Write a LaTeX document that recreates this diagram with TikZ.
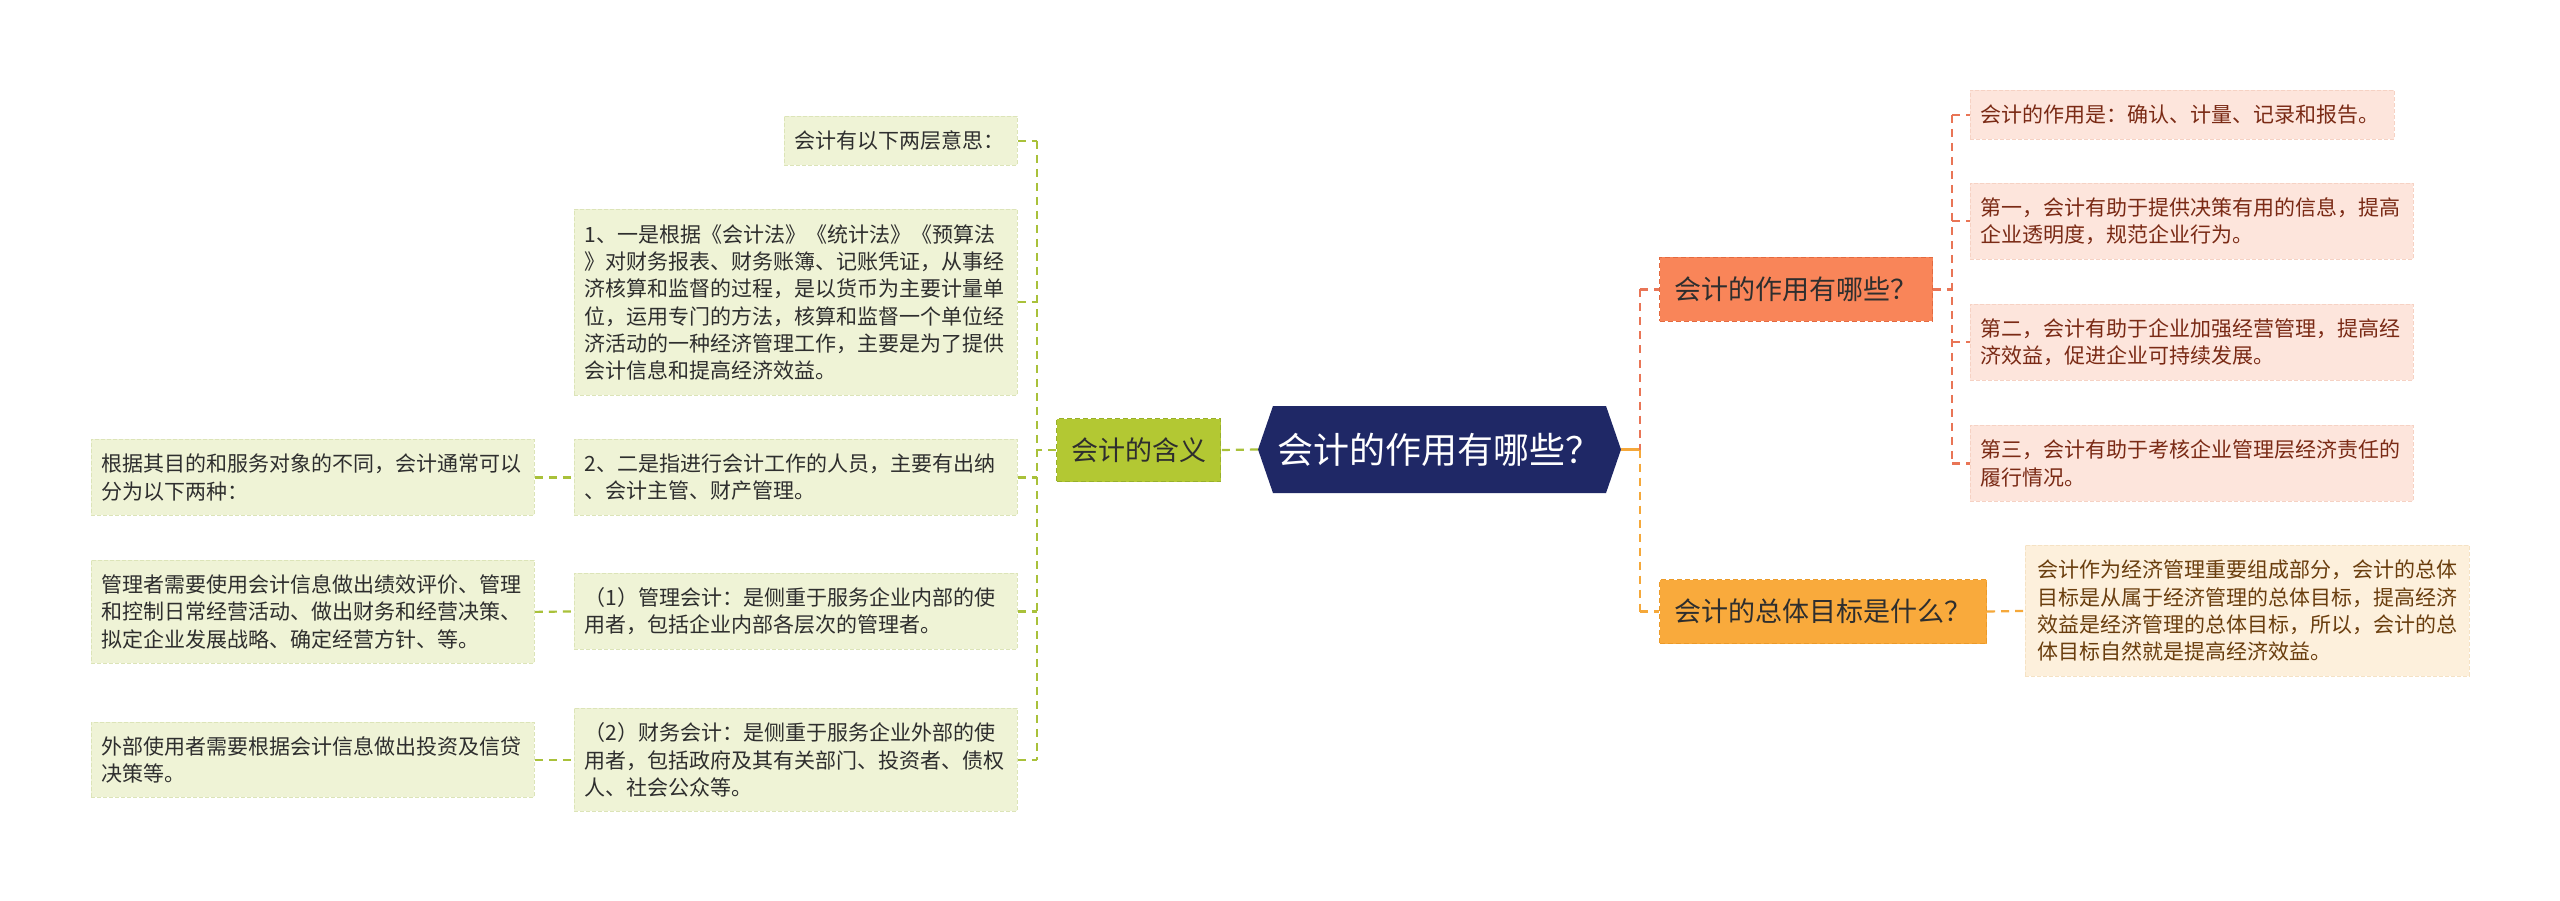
\documentclass[tikz,border=0pt]{standalone}
\usepackage{fontspec}
\setmainfont{Noto Sans CJK SC}
\usetikzlibrary{shapes.symbols}

\definecolor{leafgreen}{HTML}{EFF3D6}
\definecolor{leafgreenedge}{HTML}{DCE4B8}
\definecolor{linegreen}{HTML}{A9C13A}
\definecolor{topicgreen}{HTML}{B3C833}
\definecolor{topicgreenedge}{HTML}{98B02A}
\definecolor{rootnavy}{HTML}{1F2866}
\definecolor{topicred}{HTML}{F98559}
\definecolor{topicrededge}{HTML}{E36A40}
\definecolor{leafpink}{HTML}{FDE5DC}
\definecolor{leafpinkedge}{HTML}{F6D2C4}
\definecolor{linered}{HTML}{E97556}
\definecolor{topicorange}{HTML}{F9AA3C}
\definecolor{topicorangeedge}{HTML}{EC9A28}
\definecolor{leafcream}{HTML}{FDF0DC}
\definecolor{leafcreamedge}{HTML}{F5E2C4}
\definecolor{lineorange}{HTML}{F5A83A}
\definecolor{greentext}{HTML}{2E2E2E}
\definecolor{redtext}{HTML}{7A2A15}
\definecolor{orangetext}{HTML}{6A3E0E}

\tikzset{
  leafbox/.style={anchor=north west, inner xsep=10pt, inner ysep=0pt,
    text width=423pt, align=left, font=\fontsize{21pt}{27.3pt}\selectfont,
    line width=0.8pt, dash pattern=on 4pt off 2pt},
  greenleaf/.style={leafbox, fill=leafgreen, draw=leafgreenedge, text=greentext},
  pinkleaf/.style={leafbox, fill=leafpink, draw=leafpinkedge, text=redtext},
  creamleaf/.style={leafbox, fill=leafcream, draw=leafcreamedge, text=orangetext},
  topicbox/.style={anchor=north west, inner sep=0pt, font=\fontsize{27pt}{32pt}\selectfont,
    line width=1pt, dash pattern=on 5pt off 3pt},
  rootbox/.style={signal, signal to=east and west, signal pointer angle=142,
    fill=rootnavy, text=white, inner sep=0pt, minimum width=363pt, minimum height=87pt,
    font=\fontsize{36pt}{42pt}\selectfont},
  greenline/.style={draw=linegreen, line width=2.2pt, dash pattern=on 8pt off 6pt},
  redline/.style={draw=linered, line width=2.2pt, dash pattern=on 8pt off 6pt},
  orangeline/.style={draw=lineorange, line width=2.2pt, dash pattern=on 8pt off 6pt}
}

\begin{document}
\begin{tikzpicture}[x=1pt,y=-1pt]
            \fill[white] (0,0) rectangle (2560,901);
            \useasboundingbox (0,0) rectangle (2560,901);

            \coordinate (lbus) at (1037,0);
            \coordinate (rbus) at (1640,0);
            \coordinate (zbus) at (1952,0);

            \node (root) [rootbox] at (1439.5,449.5) {会计的作用有哪些？};

            \node (hanyi) [topicbox, fill=topicgreen, draw=topicgreenedge, text=greentext,
              minimum width=164pt, minimum height=63pt] at (1056,418) {会计的含义};
            \node (m0) [greenleaf, text width=213pt, minimum height=49pt] at (784,116) {会计有以下两层意思：};
            \node (m1) [greenleaf, minimum height=186pt] at (574,209) {1、一是根据《会计法》《统计法》《预算法\\》对财务报表、财务账簿、记账凭证，从事经\\济核算和监督的过程，是以货币为主要计量单\\位，运用专门的方法，核算和监督一个单位经\\济活动的一种经济管理工作，主要是为了提供\\会计信息和提高经济效益。};
            \node (m2) [greenleaf, minimum height=76pt] at (574,439) {2、二是指进行会计工作的人员，主要有出纳\\、会计主管、财产管理。};
            \node (m3) [greenleaf, minimum height=76pt] at (574,573) {（1）管理会计：是侧重于服务企业内部的使\\用者，包括企业内部各层次的管理者。};
            \node (m4) [greenleaf, minimum height=103pt] at (574,708) {（2）财务会计：是侧重于服务企业外部的使\\用者，包括政府及其有关部门、投资者、债权\\人、社会公众等。};
            \node (k2) [greenleaf, minimum height=76pt] at (91,439) {根据其目的和服务对象的不同，会计通常可以\\分为以下两种：};
            \node (k3) [greenleaf, minimum height=103pt] at (91,560) {管理者需要使用会计信息做出绩效评价、管理\\和控制日常经营活动、做出财务和经营决策、\\拟定企业发展战略、确定经营方针、等。};
            \node (k4) [greenleaf, minimum height=75pt] at (91,722) {外部使用者需要根据会计信息做出投资及信贷\\决策等。};

            \node (zy) [topicbox, fill=topicred, draw=topicrededge, text=greentext,
              minimum width=273pt, minimum height=64pt] at (1659,257) {会计的作用有哪些？};
            \node (r1) [pinkleaf, text width=404pt, minimum height=49pt] at (1970,90) {会计的作用是：确认、计量、记录和报告。};
            \node (r2) [pinkleaf, minimum height=76pt] at (1970,183) {第一，会计有助于提供决策有用的信息，提高\\企业透明度，规范企业行为。};
            \node (r3) [pinkleaf, minimum height=76pt] at (1970,304) {第二，会计有助于企业加强经营管理，提高经\\济效益，促进企业可持续发展。};
            \node (r4) [pinkleaf, minimum height=76pt] at (1970,425) {第三，会计有助于考核企业管理层经济责任的\\履行情况。};

            \node (mb) [topicbox, fill=topicorange, draw=topicorangeedge, text=greentext,
              minimum width=327pt, minimum height=64pt] at (1659,579) {会计的总体目标是什么？};
            \node (g1) [creamleaf, inner xsep=12pt, text width=420pt, minimum height=131pt] at (2025,545) {会计作为经济管理重要组成部分，会计的总体\\目标是从属于经济管理的总体目标，提高经济\\效益是经济管理的总体目标，所以，会计的总\\体目标自然就是提高经济效益。};

            \draw[greenline] (root.west) -- (hanyi.east);
            \draw[greenline] (hanyi.west) -- (hanyi.west -| lbus);
            \draw[greenline] (m0.east -| lbus) -- (m4.east -| lbus);
            \foreach \n in {m0,m1,m2,m3,m4}
              \draw[greenline] (\n.east) -- (\n.east -| lbus);
            \draw[greenline] (k2.east) -- (m2.west);
            \draw[greenline] (k3.east) -- (m3.west);
            \draw[greenline] (k4.east) -- (m4.west);

            \draw[orangeline, solid] (root.east) -- (root.east -| rbus);
            \draw[redline] (zy.west -| rbus) -- (root.east -| rbus);
            \draw[orangeline] (root.east -| rbus) -- (mb.west -| rbus);
            \draw[redline] (zy.west -| rbus) -- (zy.west);
            \draw[orangeline] (mb.west -| rbus) -- (mb.west);
            \draw[redline] (zy.east) -- (zy.east -| zbus);
            \draw[redline] (r1.west -| zbus) -- (r4.west -| zbus);
            \foreach \n in {r1,r2,r3,r4}
              \draw[redline] (\n.west -| zbus) -- (\n.west);
            \draw[orangeline] (mb.east) -- (g1.west);
        \end{tikzpicture}
\end{document}
